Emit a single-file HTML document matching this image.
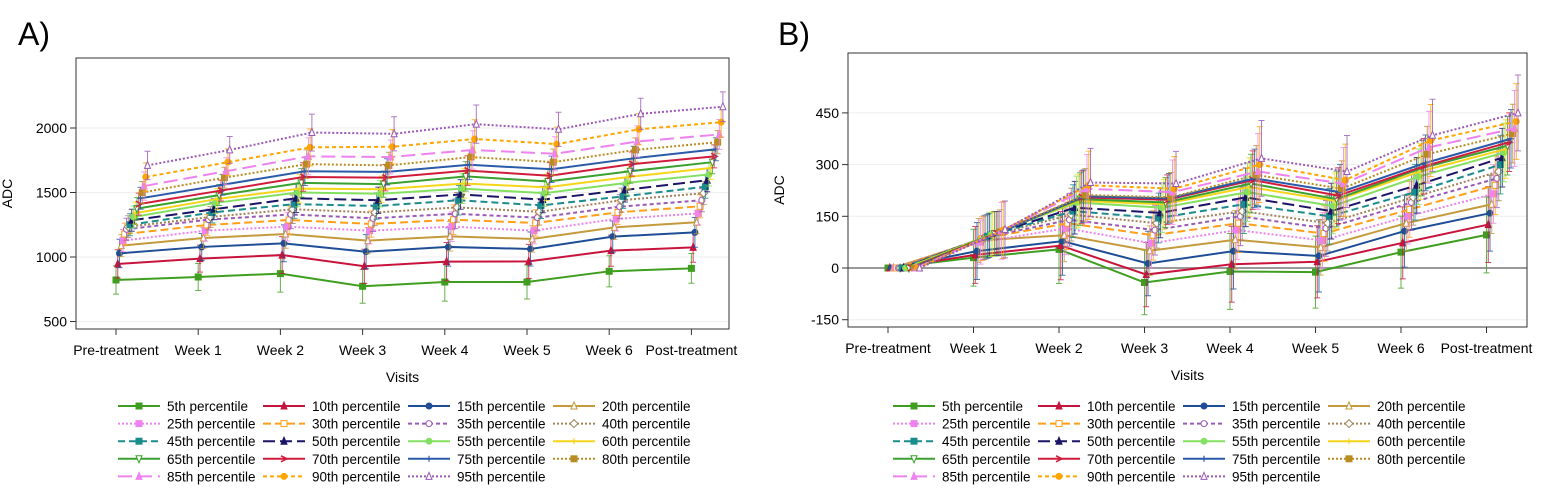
<!DOCTYPE html>
<html><head><meta charset="utf-8"><style>
body{margin:0;background:#fff;font-family:"Liberation Sans",sans-serif;}
svg{display:block}
text{font-family:"Liberation Sans",sans-serif;fill:#000}
</style></head><body>
<svg id="chart" width="1551" height="501"></svg>
<script>
const visits=["Pre-treatment","Week 1","Week 2","Week 3","Week 4","Week 5","Week 6","Post-treatment"];
const pctLabels=["5th","10th","15th","20th","25th","30th","35th","40th","45th","50th","55th","60th","65th","70th","75th","80th","85th","90th","95th"];
const ticksA=[500,1000,1500,2000];
const ticksB=[-150,0,150,300,450];
const valuesA=[
[822,845,871,773,806,806,889,912],
[946,987,1015,928,964,966,1049,1075],
[1028,1078,1106,1041,1078,1062,1158,1191],
[1088,1147,1178,1127,1160,1140,1230,1269],
[1127,1204,1235,1204,1235,1204,1295,1338],
[1178,1248,1287,1256,1289,1264,1346,1393],
[1215,1290,1330,1300,1335,1305,1390,1440],
[1235,1310,1370,1345,1385,1350,1440,1495],
[1250,1345,1410,1395,1440,1400,1470,1545],
[1285,1370,1455,1440,1485,1445,1520,1595],
[1310,1420,1500,1490,1530,1495,1575,1640],
[1340,1450,1530,1525,1570,1540,1620,1690],
[1375,1480,1575,1565,1625,1585,1665,1735],
[1410,1515,1620,1615,1670,1630,1720,1780],
[1455,1560,1665,1660,1715,1680,1765,1835],
[1500,1615,1720,1710,1775,1735,1830,1890],
[1550,1665,1780,1775,1830,1800,1895,1950],
[1620,1735,1850,1855,1915,1875,1990,2045],
[1710,1830,1965,1955,2030,1990,2110,2165]];
const valuesB=[
[0,30,54,-42,-10,-12,46,96],
[0,38,65,-19,11,18,73,126],
[0,49,78,13,49,35,107,159],
[0,80,95,50,82,60,130,185],
[0,75,115,72,110,80,150,215],
[0,85,130,95,130,100,170,240],
[0,88,140,110,150,115,190,260],
[0,90,155,130,165,130,205,280],
[0,92,165,145,185,150,220,300],
[0,95,175,160,205,165,240,320],
[0,97,190,175,220,180,265,335],
[0,99,195,185,235,195,280,345],
[0,100,200,190,245,200,290,355],
[0,100,205,198,255,210,295,365],
[0,100,208,202,260,220,305,375],
[0,105,212,205,270,230,330,390],
[0,108,230,220,280,245,350,405],
[0,110,240,230,300,255,370,425],
[0,112,248,245,318,280,385,450]];
const errA=[100,95,130,120,135,120,110,105];
const errB=[0,75,90,85,100,95,95,100];
const colors=["#3f9e1f","#c8143c","#1f4e96","#c49a3c","#ee82ee","#ff9f1a","#9b59b6","#a3815a","#1a8c8c","#1c1466","#84e060","#f5d51a","#3aa030","#d01c3c","#2a5aa8","#b88c20","#ee82ee","#ffa500","#9b59b6"];
const dashes=["","","","","2,2","8,4","4,3","2,2","7,4","12,5","","","","","","2,2","14,6","4,3","2,2"];
const marks=["sq","tri","circ","otri","sq","osq","ocirc","odia","sq","tri","circ","plus","odtri","arrow","plus","sq","tri","circ","otri"];
const NS="http://www.w3.org/2000/svg";
const svg=document.getElementById('chart');
function el(tag,attrs,parent){const e=document.createElementNS(NS,tag);for(const k in attrs)e.setAttribute(k,attrs[k]);(parent||svg).appendChild(e);return e;}
function marker(g,type,x,y,c){
  const s=3;let e;
  if(type=="sq"||type=="osq")e=el('rect',{x:x-s,y:y-s,width:2*s,height:2*s,fill:type=="sq"?c:"#fff",stroke:c},g);
  else if(type=="circ"||type=="ocirc")e=el('circle',{cx:x,cy:y,r:s,fill:type=="circ"?c:"#fff",stroke:c},g);
  else if(type=="tri"||type=="otri")e=el('polygon',{points:`${x},${y-s-1} ${x-s},${y+s} ${x+s},${y+s}`,fill:type=="tri"?c:"#fff",stroke:c},g);
  else if(type=="odtri")e=el('polygon',{points:`${x},${y+s+1} ${x-s},${y-s} ${x+s},${y-s}`,fill:"#fff",stroke:c},g);
  else if(type=="odia")e=el('polygon',{points:`${x},${y-s-1} ${x+s+1},${y} ${x},${y+s+1} ${x-s-1},${y}`,fill:"#fff",stroke:c},g);
  else if(type=="arrow")e=el('polyline',{points:`${x-s},${y-s} ${x+s},${y} ${x-s},${y+s}`,fill:"none",stroke:c,'stroke-width':1.5},g);
  else e=el('path',{d:`M${x-s} ${y}H${x+s}M${x} ${y-s}V${y+s}`,stroke:c,'stroke-width':1.2},g);
  
  
}
function panel(cfg){
  const {id,L,R,T,B,vmin,vmax,ticks,xs,values,err,zero}=cfg;
  const g=el('g',{});
  
  
  const yS=v=>B-(v-vmin)/(vmax-vmin)*(B-T);
  const xS=(i,k)=>xs[0]+i*(xs[1]-xs[0])+k*1.75;
  ticks.forEach(t=>{
    const gl=el('line',{x1:L,x2:R,y1:yS(t),y2:yS(t),stroke:"#eee"},g);
    
    el('line',{x1:L-6,x2:L,y1:yS(t),y2:yS(t),stroke:"#333"},g);
    const tx=el('text',{x:L-9,y:yS(t)+5,'text-anchor':'end','font-size':14},g);
    tx.textContent=t;
    
  });
  if(zero){const z=el('line',{x1:L,x2:R,y1:yS(0),y2:yS(0),stroke:"#999",'stroke-width':2},g);}
  visits.forEach((v,i)=>{
    const x=xs[0]+i*(xs[1]-xs[0]);
    el('line',{x1:x,x2:x,y1:B,y2:B+6,stroke:"#333"},g);
    const tx=el('text',{x:x,y:B+26,'text-anchor':'middle','font-size':14},g);
    tx.textContent=v;
    
  });
  values.forEach((row,k)=>{
    const c=colors[k];
    const sg=el('g',{},g);
    
    
    row.forEach((v,i)=>{
      const x=xS(i,k),e=err[i]*(k<3||k>15?1.1:0.85);
      if(e>0){
        el('path',{d:`M${x} ${yS(v-e)}V${yS(v+e)}M${x-3} ${yS(v-e)}H${x+3}M${x-3} ${yS(v+e)}H${x+3}`,stroke:c,'stroke-width':1,fill:'none',opacity:0.8},sg);
      }
    });
    const pts=row.map((v,i)=>xS(i,k)+","+yS(v)).join(" ");
    const pl=el('polyline',{points:pts,fill:"none",stroke:c,'stroke-width':2,'stroke-dasharray':dashes[k]},sg);
    
    row.forEach((v,i)=>marker(sg,marks[k],xS(i,k),yS(v),c));
  });
  const fr=el('rect',{x:L,y:T,width:R-L,height:B-T,fill:"none",stroke:"#333"},g);
  
  const yt=el('text',{x:0,y:0,transform:`translate(${L-64},${(T+B)/2}) rotate(-90)`,'text-anchor':'middle','font-size':14},g);
  yt.textContent="ADC";
  const xt=el('text',{x:(L+R)/2,y:B+53,'text-anchor':'middle','font-size':14},g);
  xt.textContent="Visits";
  const pl=el('text',{x:id=="A"?18:778,y:45,'font-size':32},g);
  pl.textContent=id+")";
  // legend
  const lg=el('g',{},g);
  
  const lx=cfg.legX;
  pctLabels.forEach((p,k)=>{
    const col=k%4,row=Math.floor(k/4);
    const x0=lx+col*145,y0=406+row*17.6;
    const eg=el('g',{},lg);
    
    el('line',{x1:x0,x2:x0+42,y1:y0,y2:y0,stroke:colors[k],'stroke-width':2,'stroke-dasharray':dashes[k]},eg);
    marker(eg,marks[k],x0+21,y0,colors[k]);
    const t=el('text',{x:x0+49,y:y0+5,'font-size':13.5},eg);
    t.textContent=p+" percentile";
  });
}
panel({id:"A",L:76,R:729,T:58,B:329,vmin:1000-(329-257)/0.129,vmax:1000+(257-58)/0.129,ticks:ticksA,xs:[116,198.2],values:valuesA,err:errA,zero:false,legX:118});
panel({id:"B",L:848,R:1527,T:53,B:327,vmin:-(327-268)*150/51.7,vmax:(268-53)*150/51.7,ticks:ticksB,xs:[888,973.5],values:valuesB,err:errB,zero:true,legX:893});
</script>
</body></html>
